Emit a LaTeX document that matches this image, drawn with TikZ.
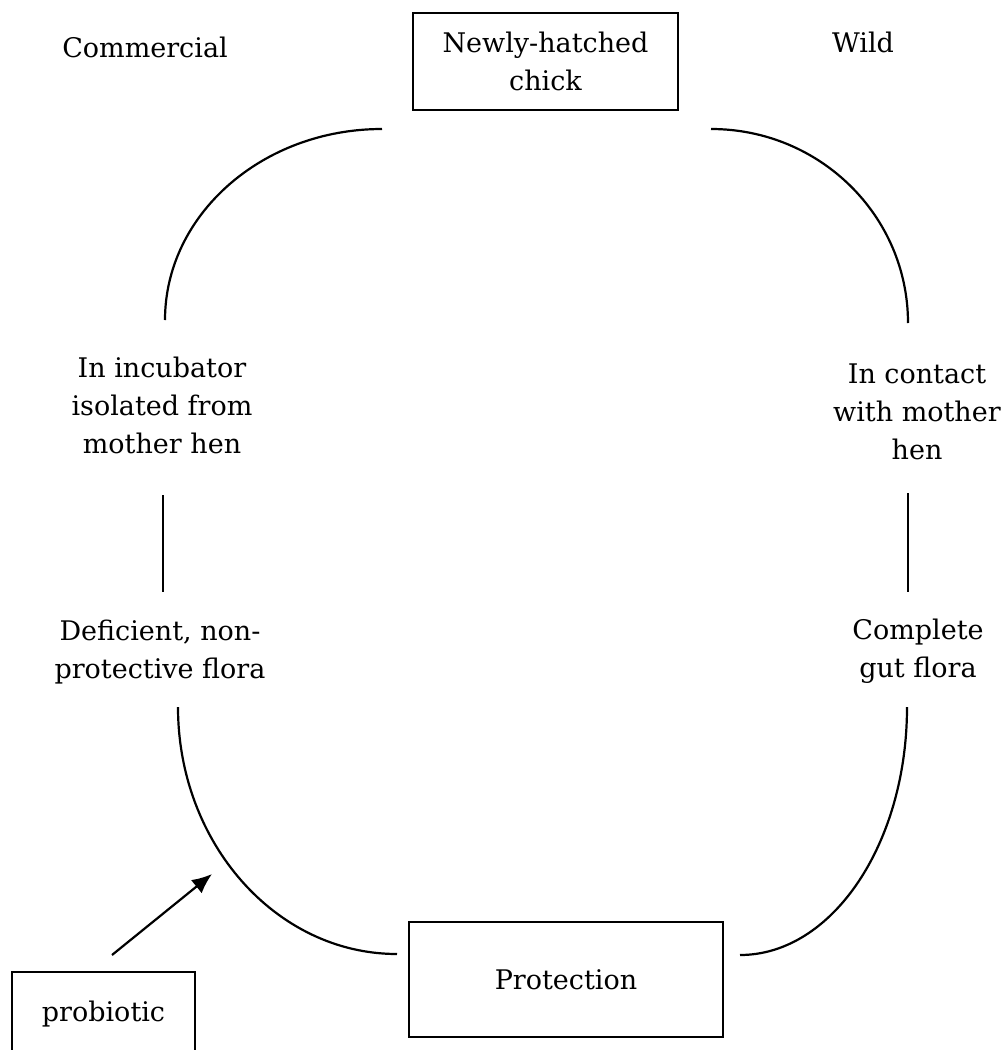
\documentclass[tikz,border=0pt]{standalone}
\usepackage{fontspec}
\setmainfont{DejaVu Serif}
\usetikzlibrary{arrows.meta}

\begin{document}
\begin{tikzpicture}
[x=0.5pt,y=-0.5pt,
  lineDecorate/.style={-,line width=1.1pt},%
  arrowDecorate/.style={-{Latex[length=10pt,width=8.5pt]},line width=1.1pt},
  boxDecorate/.style={shape=rectangle,draw,line width=1.1pt,inner sep=0pt,align=center},
  textDecorate/.style={align=center,inner sep=0pt},
  font=\fontsize{13.5}{19}\selectfont]
\clip (0,0) rectangle (1007,1050);
%% boxes
\node (chick) at (545.5,61.5) [boxDecorate,minimum width=132.5pt,minimum height=48.5pt] {Newly-hatched\\chick};
\node (protection) at (566,979.5) [boxDecorate,minimum width=157pt,minimum height=57.5pt] {Protection};
\node (probiotic) at (103.5,1014) [boxDecorate,minimum width=91.5pt,minimum height=42pt] {probiotic};
%% labels
\foreach \nodename/\x/\y/\label in {
  commercial/145/47/{Commercial},
  wild/863/42/{Wild},
  incubator/162/405/{In incubator\\isolated from\\mother hen},
  deficient/160/652/{Deficient, non-\\protective flora},
  contact/917/412/{In contact\\with mother\\hen},
  complete/918/651/{Complete\\gut flora}}
{
  \node (\nodename) at (\x,\y) [textDecorate] {\label};
}
%% ends of the curves
\foreach \nodename/\x/\y in {
  tlA/382/129, tlB/165/320, trA/711/129, trB/908/323,
  blA/178/707, blB/397/954, brA/907/707, brB/740/955,
  lvA/163/495, lvB/163/592, rvA/908/493, rvB/908/592,
  arA/112/955, arB/212/874}
{
  \coordinate (\nodename) at (\x,\y);
}
%% curves and lines
\draw[lineDecorate] (tlA) .. controls +(-120,0) and +(0,-105) .. (tlB);
\draw[lineDecorate] (trA) .. controls +(109,0) and +(0,-107) .. (trB);
\draw[lineDecorate] (blA) .. controls +(0,136) and +(-121,0) .. (blB);
\draw[lineDecorate] (brA) .. controls +(0,137) and +(92,0) .. (brB);
\draw[lineDecorate] (lvA) -- (lvB);
\draw[lineDecorate] (rvA) -- (rvB);
\draw[arrowDecorate] (arA) -- (arB);
\end{tikzpicture}
\end{document}
